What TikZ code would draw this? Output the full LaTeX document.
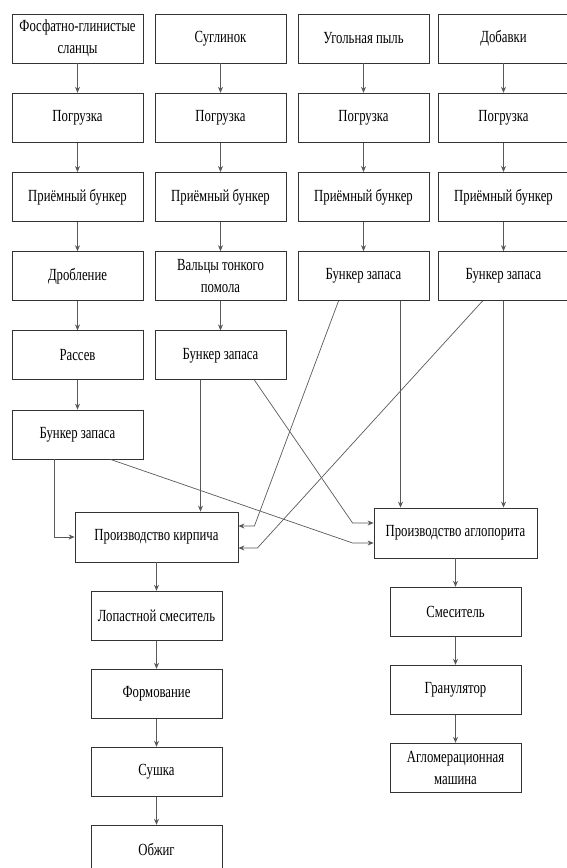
\documentclass[tikz,border=0pt]{standalone}
\usepackage{fontspec}
\setmainfont[FakeStretch=0.75]{Liberation Serif}
\usetikzlibrary{arrows.meta,positioning}

\begin{document}
\begin{tikzpicture}[x=1pt,y=-1pt,font=\fontsize{17}{22}\selectfont,>={Stealth[length=6pt,width=5pt]},
box/.style={draw=black!80,line width=0.8pt,minimum width=131pt,minimum height=49pt,align=center,inner sep=1pt},
bigbox/.style={box,minimum width=163pt,minimum height=50pt},
arr/.style={->,draw=black!65,line width=0.7pt},
node distance=29.4pt]
\useasboundingbox (0,0) rectangle (566,868);
% sources
\node[box] (fos) at (77.5,38.5) {Фосфатно-глинистые\\сланцы};
\node[box] (clay) at (220.5,38.5) {Суглинок};
\node[box] (coal) at (363.5,38.5) {Угольная пыль};
\node[box] (add) at (503.5,38.5) {Добавки};
\node[box,below=of fos] (fosload) {Погрузка};
\node[box,below=of clay] (clayload) {Погрузка};
\node[box,below=of coal] (coalload) {Погрузка};
\node[box,below=of add] (addload) {Погрузка};
\node[box,below=of fosload] (fosbin) {Приёмный бункер};
\node[box,below=of clayload] (claybin) {Приёмный бункер};
\node[box,below=of coalload] (coalbin) {Приёмный бункер};
\node[box,below=of addload] (addbin) {Приёмный бункер};
\node[box,below=of fosbin] (fosgrind) {Дробление};
\node[box,below=of claybin] (claymill) {Вальцы тонкого\\помола};
\node[box,below=of coalbin] (coalstore) {Бункер запаса};
\node[box,below=of addbin] (addstore) {Бункер запаса};
\node[box,below=of fosgrind] (fossieve) {Рассев};
\node[box,below=of claymill] (claystore) {Бункер запаса};
\node[box,below=of fossieve] (fosstore) {Бункер запаса};
% products
\node[bigbox] (brick) at (156.5,537) {Производство кирпича};
\node[bigbox] (aglo) at (455.5,533) {Производство аглопорита};
\node[box,below=28.4pt of brick] (paddle) {Лопастной смеситель};
\node[box,below=28.2pt of paddle] (shape) {Формование};
\node[box,below=28.2pt of shape] (dry) {Сушка};
\node[box,below=28.2pt of dry] (fire) {Обжиг};
\node[box,below=28.4pt of aglo] (mixer) {Смеситель};
\node[box,below=28.2pt of mixer] (granul) {Гранулятор};
\node[box,below=28.2pt of granul] (sinter) {Агломерационная\\машина};
% chains
\foreach \a/\b in {fos/fosload,fosload/fosbin,fosbin/fosgrind,fosgrind/fossieve,fossieve/fosstore,
clay/clayload,clayload/claybin,claybin/claymill,claymill/claystore,
coal/coalload,coalload/coalbin,coalbin/coalstore,add/addload,addload/addbin,addbin/addstore,
brick/paddle,paddle/shape,shape/dry,dry/fire,aglo/mixer,mixer/granul,granul/sinter}
\draw[arr] (\a)--(\b);
% feeds to brick
\draw[arr] ([xshift=-23pt]fosstore.south)|-(brick.west);
\draw[arr] ([xshift=-20pt]claystore.south)--([xshift=-20pt]claystore.south|-brick.north);
\draw[arr] ([xshift=-25pt]coalstore.south)--([xshift=16pt,yshift=11pt]brick.east)--([yshift=11pt]brick.east);
\draw[arr] ([xshift=-21pt]addstore.south)--([xshift=19pt,yshift=-11pt]brick.east)--([yshift=-11pt]brick.east);
% feeds to aglo
\draw[arr] ([xshift=34pt]claystore.south)--([xshift=-21pt,yshift=10pt]aglo.west)--([yshift=10pt]aglo.west);
\draw[arr] ([xshift=33pt]fosstore.south)--([xshift=-21pt,yshift=-10pt]aglo.west)--([yshift=-10pt]aglo.west);
\draw[arr] ([xshift=37pt]coalstore.south)--([xshift=37pt]coalstore.south|-aglo.north);
\draw[arr] (addstore.south)--(addstore.south|-aglo.north);
\end{tikzpicture}
\end{document}
